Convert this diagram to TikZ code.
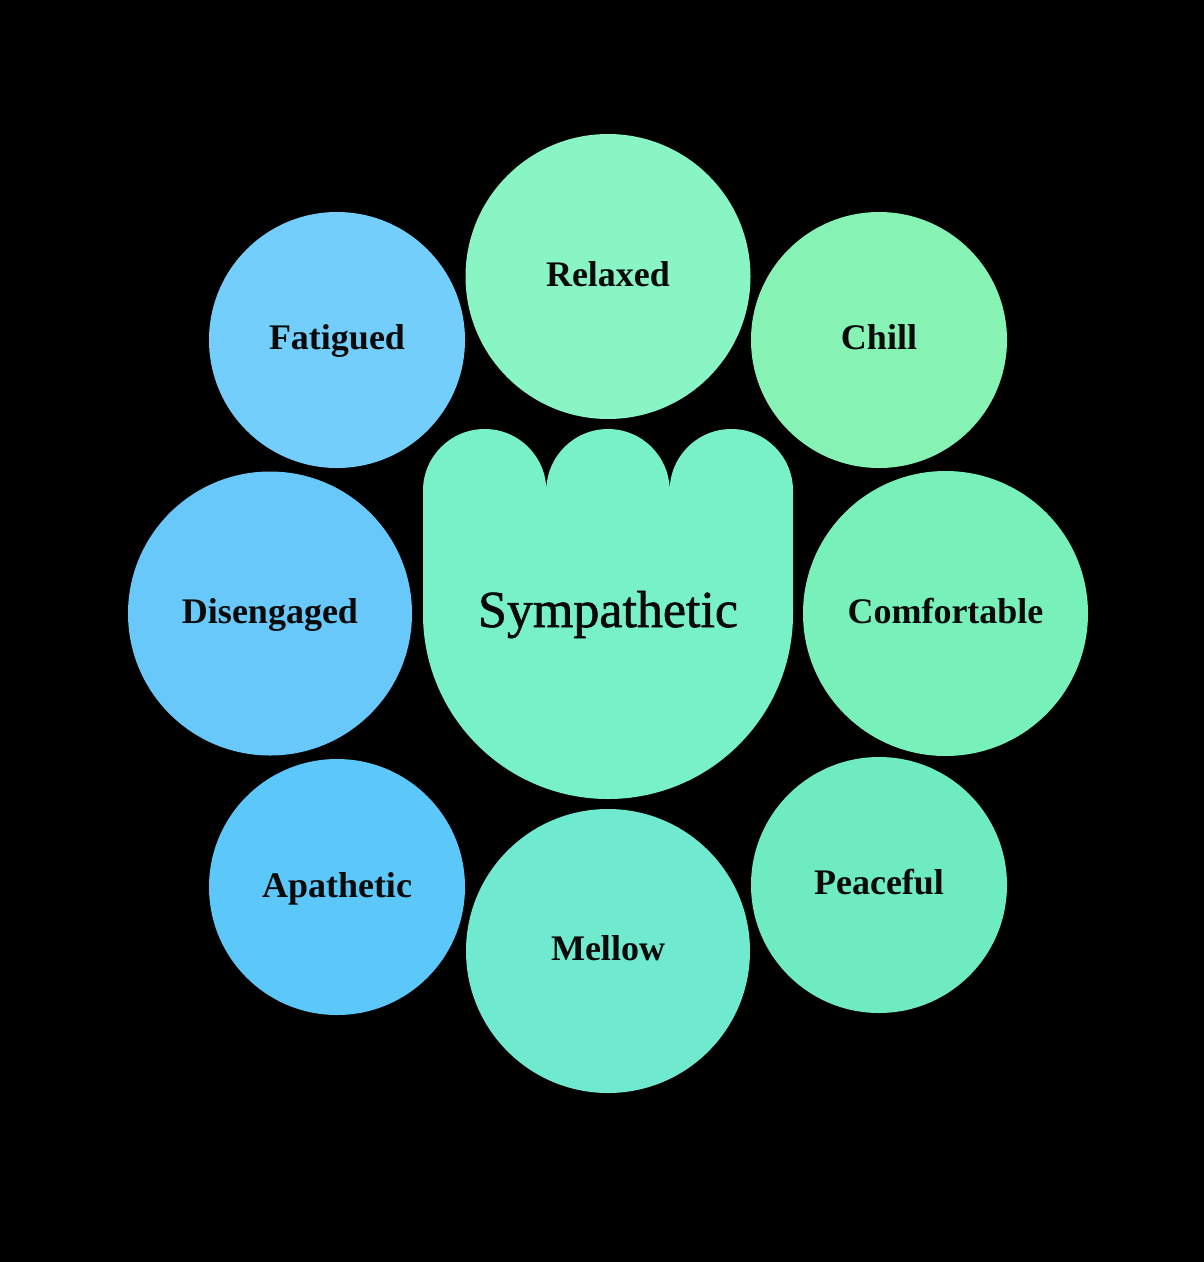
\documentclass[tikz,border=0pt]{standalone}
\usepackage{fontspec}
\setmainfont{Liberation Serif}
\newfontfamily\midfont[FakeBold=1.2]{Liberation Serif}
\definecolor{cRelaxed}{HTML}{8AF5C4}
\definecolor{cChill}{HTML}{86F2B4}
\definecolor{cFatigued}{HTML}{74CEFC}
\definecolor{cDiseng}{HTML}{68C8FA}
\definecolor{cApath}{HTML}{5CC8FA}
\definecolor{cMellow}{HTML}{70EACE}
\definecolor{cPeace}{HTML}{6EEBC0}
\definecolor{cComf}{HTML}{78F0BA}
\definecolor{cCenter}{HTML}{78F0C8}
\definecolor{ink}{HTML}{0A0A0A}
\tikzset{
  bubble/.style={circle, inner sep=0pt, outer sep=0pt, minimum size=#1},
  lbl/.style={anchor=base, inner sep=0pt, text=ink, font=\bfseries\fontsize{36}{40}\selectfont},
  biglbl/.style={anchor=base, inner sep=0pt, text=ink, font=\midfont\fontsize{52}{56}\selectfont}
}
\begin{document}
\begin{tikzpicture}[x=1pt,y=-1pt]
\useasboundingbox (0,0) rectangle (1204,1262);
\fill[black] (0,0) rectangle (1204,1262);
% outer bubbles
\node[bubble=285pt, fill=cRelaxed] (relaxed) at (608,276.5) {};
\node[bubble=256pt, fill=cFatigued] (fatigued) at (337,340) {};
\node[bubble=256pt, fill=cChill] (chill) at (879,340) {};
\node[bubble=284pt, fill=cDiseng] (diseng) at (270,613.5) {};
\node[bubble=285pt, fill=cComf] (comf) at (945.5,613.5) {};
\node[bubble=256pt, fill=cApath] (apath) at (337,887) {};
\node[bubble=256pt, fill=cPeace] (peace) at (879,885) {};
\node[bubble=284pt, fill=cMellow] (mellow) at (608,951) {};
% central shape
\fill[cCenter] (423,614) -- (423,490.67)
  arc[start angle=180, end angle=360, radius=61.667]
  arc[start angle=180, end angle=360, radius=61.667]
  arc[start angle=180, end angle=360, radius=61.667]
  -- (793,614)
  arc[start angle=0, end angle=180, radius=185] -- cycle;
\coordinate (center) at (608,614);
% labels
\node[lbl] (relaxed-t) at ([yshift=-10pt]relaxed.center) {Relaxed};
\node[lbl] (fatigued-t) at ([yshift=-9pt]fatigued.center) {Fatigued};
\node[lbl] (chill-t) at ([yshift=-9pt]chill.center) {Chill};
\node[lbl] (diseng-t) at ([yshift=-10pt]diseng.center) {Disengaged};
\node[lbl] (comf-t) at ([yshift=-10pt]comf.center) {Comfortable};
\node[lbl] (apath-t) at ([yshift=-10pt]apath.center) {Apathetic};
\node[lbl] (peace-t) at ([yshift=-9pt]peace.center) {Peaceful};
\node[lbl] (mellow-t) at ([yshift=-9pt]mellow.center) {Mellow};
\node[biglbl] (center-t) at ([yshift=-13pt]center) {Sympathetic};
\end{tikzpicture}
\end{document}
